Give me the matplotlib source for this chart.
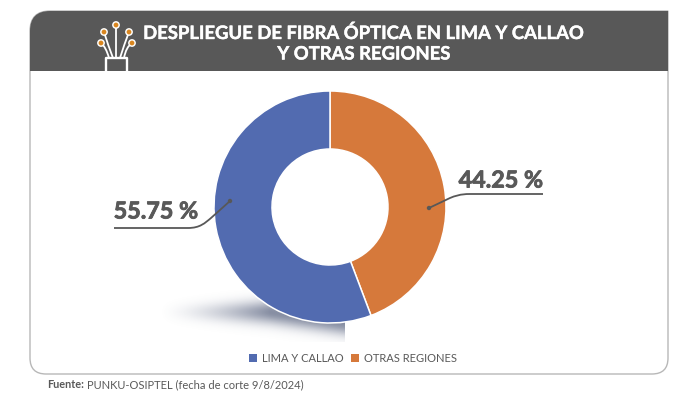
import numpy as np
import matplotlib
matplotlib.use("Agg")
import matplotlib.pyplot as plt
import matplotlib.patheffects as pe
from matplotlib.patches import Rectangle, Circle, Patch, PathPatch
from matplotlib.path import Path

categories = ["LIMA Y CALLAO", "OTRAS REGIONES"]
values = [55.75, 44.25]
title_lines = ["DESPLIEGUE DE FIBRA ÓPTICA EN LIMA Y CALLAO", "Y OTRAS REGIONES"]
source_bold = "Fuente:"
source_text = "PUNKU-OSIPTEL (fecha de corte 9/8/2024)"

BLUE = "#526bb0"
ORANGE = "#d6793b"
DARK = "#585858"
TEXT = "#595959"

W, H = 700, 395
plt.rcParams["font.family"] = ["Lato", "DejaVu Sans"]


def py(y):
    # picture coords have y going down
    return H - y


def curve(ax, pts):
    codes = [Path.MOVETO, Path.LINETO, Path.CURVE4, Path.CURVE4, Path.CURVE4, Path.LINETO]
    verts = [(x, py(y)) for x, y in pts]
    ax.add_patch(PathPatch(Path(verts, codes), fill=False, ec=DARK, lw=1.3, zorder=6))
    ax.add_patch(Circle(verts[-1], 2.2, fc=DARK, ec="none", zorder=7))


def card_path(left, top, right, bottom, r_top, r_bot):
    # top right corner stays square, the other three are rounded
    pts = [
        (left + r_top, top), (right, top), (right, bottom - r_bot),
        (right, bottom), (right - r_bot, bottom), (left + r_bot, bottom),
        (left, bottom), (left, bottom - r_bot), (left, top + r_top),
        (left, top), (left + r_top, top), (left + r_top, top),
    ]
    codes = [Path.MOVETO, Path.LINETO, Path.LINETO, Path.CURVE3, Path.CURVE3, Path.LINETO,
             Path.CURVE3, Path.CURVE3, Path.LINETO, Path.CURVE3, Path.CURVE3, Path.CLOSEPOLY]
    return Path([(x, py(y)) for x, y in pts], codes)


fig = plt.figure(figsize=(7, 3.95), dpi=100)
ax = fig.add_axes([0, 0, 1, 1])
ax.set_xlim(0, W)
ax.set_ylim(0, H)
ax.axis("off")

# card and header
outline = card_path(30, 11, 668, 374, 20, 16)
ax.add_patch(PathPatch(outline, fc="white", ec="#b8b8b8", lw=1.0, zorder=1))
header = PathPatch(outline, fc=DARK, ec="none", zorder=2)
ax.add_patch(header)
header.set_clip_path(Rectangle((0, py(71)), W, 60, transform=ax.transData))

heavy = [pe.withStroke(linewidth=0.3, foreground="white")]
for i, line in enumerate(title_lines):
    ax.text(364, py(33 + i * 21), line, color="white", fontsize=13.3, fontweight="bold",
            ha="center", va="center", zorder=5, path_effects=heavy)

# fibre icon
ax.plot([106, 106, 127, 127], [py(71), py(58), py(58), py(71)], color="white", lw=1.7, zorder=4)
fibres = [
    ((116, 25), (116, 45), (116, 58)),
    ((104, 32), (108, 45), (113, 58)),
    ((129, 32), (124, 45), (120, 58)),
    ((101, 43), (106, 47), (109, 58)),
    ((132, 43), (126, 47), (124, 58)),
]
for tip, ctrl, base in fibres:
    verts = [(tip[0], py(tip[1])), (ctrl[0], py(ctrl[1])), (base[0], py(base[1]))]
    ax.add_patch(PathPatch(Path(verts, [Path.MOVETO, Path.CURVE3, Path.CURVE3]), fill=False,
                           ec="white", lw=1.3, zorder=4))
    ax.add_patch(Circle((tip[0], py(tip[1])), 3.9, fc="white", ec="none", zorder=5))
    ax.add_patch(Circle((tip[0], py(tip[1])), 2.4, fc="#d9861f", ec="none", zorder=6))

# soft shadow under the donut
gx, gy = np.meshgrid(np.linspace(155, 345, 190), np.linspace(290, 342, 52))
falloff = np.clip((gx - 158) / 112, 0, 1) ** 1.5
mid = 312 + np.clip(gx - 270, 0, None) * 0.15
spread = 8 + np.clip(gx - 158, 0, 112) * 0.035
alpha = 0.68 * falloff * np.exp(-((gy - mid) / spread) ** 2)
rgba = np.zeros(gx.shape + (4,))
rgba[..., :3] = matplotlib.colors.to_rgb("#4f5a78")
rgba[..., 3] = alpha
ax.imshow(rgba, extent=(155, 345, py(342), py(290)), origin="upper", aspect="auto", zorder=2.5,
          interpolation="bilinear")

# donut, clockwise from the top starting with the orange slice
ax.pie(values[::-1], colors=[ORANGE, BLUE], center=(330, py(207)), radius=116, startangle=90,
       counterclock=False, frame=True, wedgeprops=dict(width=58, edgecolor="white", linewidth=1.1, zorder=3))
ax.set_xlim(0, W)
ax.set_ylim(0, H)
ax.set_aspect("auto")
ax.axis("off")

# value call-outs
heavy_val = [pe.withStroke(linewidth=0.6, foreground=TEXT)]
ax.text(156, py(212), f"{values[0]:.2f} %", color=TEXT, fontsize=16.8, fontweight="bold",
        ha="center", va="center", zorder=6, path_effects=heavy_val)
ax.text(501, py(181), f"{values[1]:.2f} %", color=TEXT, fontsize=16.8, fontweight="bold",
        ha="center", va="center", zorder=6, path_effects=heavy_val)
curve(ax, [(114, 228), (188, 228), (200, 228), (205, 223), (211, 218), (230, 201)])
curve(ax, [(543, 194), (470, 194), (460, 194), (455, 196), (450, 198), (429, 208)])

# legend
handles = [Patch(fc=BLUE, ec="none"), Patch(fc=ORANGE, ec="none")]
ax.legend(handles, categories, loc="center", bbox_to_anchor=(353, py(358)),
          bbox_transform=ax.transData, ncol=2, frameon=False, fontsize=8, labelcolor=TEXT,
          handlelength=0.72, handleheight=0.72, handletextpad=0.45, columnspacing=0.72,
          borderpad=0, borderaxespad=0)

# source
ax.text(47, py(385), source_bold, color=TEXT, fontsize=7.8, fontweight="bold", ha="left", va="center")
ax.text(87, py(385), source_text, color=TEXT, fontsize=8, ha="left", va="center")

fig.savefig("out.png", dpi=100)
plt.close(fig)
